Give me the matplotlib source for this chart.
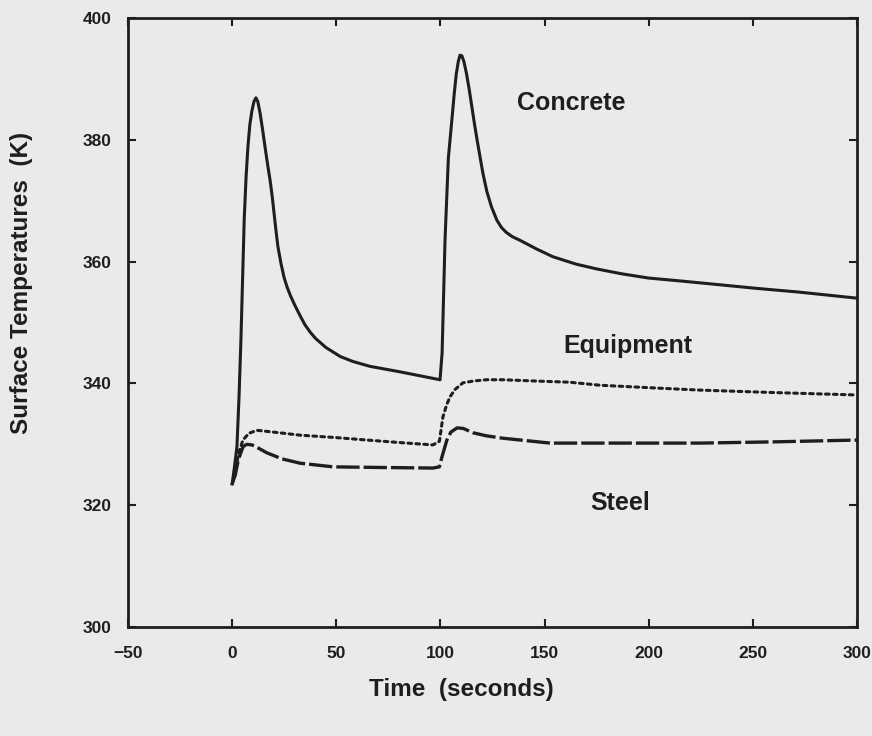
import matplotlib
matplotlib.use("Agg")
import matplotlib.pyplot as plt

# Surface temperature histories (time in s, temperature in K)
concrete_t = [0, 1, 2.3, 3.3, 4.2, 5.0, 5.8, 6.7, 7.6, 8.5, 9.5, 10.5, 11.4,
              12.3, 13.4, 14.6, 15.8, 17.0, 18.2, 19.2, 20.1, 21.0, 22.0,
              23.5, 25.0, 26.5, 28.0, 30.0, 32.5, 35.0, 37.5, 40.0, 45.0,
              52, 58, 66.2, 80.6, 99.8,
              100.8, 102.2, 103.8, 105.5, 106.6, 107.6, 108.6, 109.4, 110.3,
              111.3, 112.5, 113.8, 115.1, 116.3, 117.6, 119, 120.4, 122.3,
              124.5, 127.1, 129.3, 131.6, 134.5, 138.2, 146, 154, 165, 175,
              187, 200, 216, 234, 252, 272, 300]
concrete_T = [323.5, 326, 329.6, 337.8, 347, 357, 367, 374, 379, 382.5,
              384.8, 386.3, 386.9, 386.3, 384.4, 381.7, 378.8, 376.0, 373.4,
              370.8, 368.0, 365.2, 362.4, 359.6, 357.3, 355.7, 354.4, 352.9,
              351.2, 349.6, 348.4, 347.4, 345.9, 344.4, 343.6, 342.8, 341.9,
              340.6,
              345, 363.5, 377, 383.3, 387.5, 390.8, 392.9, 393.9, 393.8,
              392.8, 390.9, 388.3, 385.4, 382.7, 380, 377.2, 374.5, 371.5,
              369, 366.8, 365.6, 364.8, 364.1, 363.5, 362.1, 360.8, 359.6,
              358.8, 358.0, 357.3, 356.8, 356.2, 355.6, 355, 354]

equipment_t = [0, 1.5, 3, 5.2, 8, 11.9, 20, 32.6, 50, 64.7, 80, 96.4, 99.5,
               101.2, 103, 104.6, 107, 110.8, 116, 122, 130, 145, 162, 176.6,
               200, 224.6, 260, 300]
equipment_T = [323.5, 325, 328.5, 330.7, 331.8, 332.3, 332, 331.5, 331.1,
               330.7, 330.3, 329.9, 330.5, 334.5, 336.5, 337.8, 339, 340.1,
               340.4, 340.6, 340.6, 340.4, 340.2, 339.7, 339.3, 338.9, 338.5,
               338.1]

steel_t = [0, 1.5, 3, 5.2, 7, 9.5, 13, 16.7, 24, 32.6, 48.4, 70, 96.4, 99.5,
           100.7, 103.1, 105, 108, 111, 115.6, 122, 130, 152.6, 176.6, 224.6,
           260, 300]
steel_T = [323.5, 325, 327.5, 329.6, 330, 329.9, 329.3, 328.6, 327.6, 326.9,
           326.3, 326.2, 326.1, 326.3, 327.9, 330.7, 332, 332.7, 332.6, 331.9,
           331.4, 331.0, 330.2, 330.2, 330.2, 330.4, 330.7]

x_ticks = [-50, 0, 50, 100, 150, 200, 250, 300]
y_ticks = [300, 320, 340, 360, 380, 400]

plt.rcParams['font.family'] = ['Liberation Sans', 'DejaVu Sans']
plt.rcParams['font.weight'] = 'bold'
plt.rcParams['axes.labelweight'] = 'bold'

ink = '#1e1e1e'
paper = '#eaeaea'

fig = plt.figure(figsize=(8.72, 7.36), dpi=100, facecolor=paper)
ax = fig.add_axes([0.1468, 0.1481, 0.836, 0.8274], facecolor=paper)

ax.plot(concrete_t, concrete_T, color=ink, lw=2.2, solid_joinstyle='round')
ax.plot(equipment_t, equipment_T, color=ink, lw=2.2,
        linestyle=(0, (1.2, 1.4)), dash_capstyle='round')
ax.plot(steel_t, steel_T, color=ink, lw=2.4, linestyle=(0, (7, 1.2)))

ax.set_xlim(-50, 300)
ax.set_ylim(300, 400)
ax.set_xticks(x_ticks)
ax.set_yticks(y_ticks)

for s in ax.spines.values():
    s.set_linewidth(2.0)
    s.set_color(ink)

ax.tick_params(direction='in', length=6, width=1.5, color=ink,
               top=True, right=True, labelsize=12.5, labelcolor=ink)
ax.tick_params(axis='x', pad=14)
ax.tick_params(axis='y', pad=12)

ax.set_xlabel('Time  (seconds)', fontsize=17.5, color=ink)
ax.xaxis.set_label_coords(0.457, -0.084)
ax.set_ylabel('Surface Temperatures  (K)', fontsize=17.5, color=ink)
ax.yaxis.set_label_coords(-0.130, 0.565)

ax.text(162.7, 386.0, 'Concrete', fontsize=18, ha='center', va='center', color=ink)
ax.text(190, 346.1, 'Equipment', fontsize=18, ha='center', va='center', color=ink)
ax.text(186.2, 320.4, 'Steel', fontsize=18, ha='center', va='center', color=ink)

fig.savefig('out.png', dpi=100, facecolor=paper)
